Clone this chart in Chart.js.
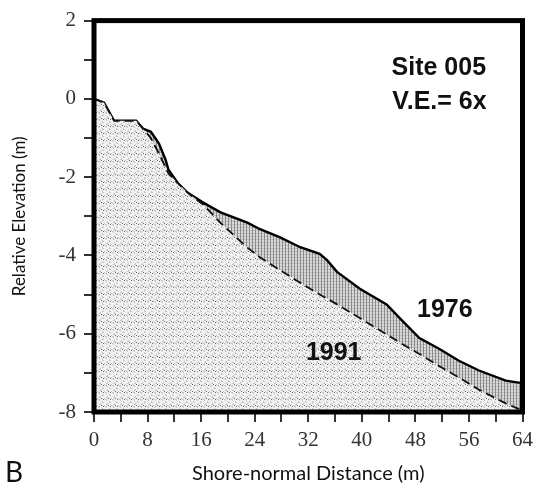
<!DOCTYPE html>
<html>
<head>
<meta charset="utf-8">
<script src="https://cdn.jsdelivr.net/npm/chart.js@4.4.1/dist/chart.umd.min.js"></script>
<style>
html,body{margin:0;padding:0;background:#fff;}
#wrap{width:539px;height:491px;position:relative;}
</style>
</head>
<body>
<div id="wrap"><canvas id="c" width="539" height="491"></canvas></div>
<script>
// ---- data ----
const distance = [0, 1.5, 3, 6.3, 7.3, 8.5, 9.7, 10.7, 11.1, 12.5, 14, 16.3, 18.9, 22.9, 24.8, 27.8, 30.8, 33.7, 34.8, 36.3, 39.7, 43.7, 46.1, 48.6, 51.6, 54.5, 57.5, 61.5, 63.4, 64];
const elev1976 = [0, -0.1, -0.56, -0.56, -0.76, -0.84, -1.14, -1.56, -1.8, -2.15, -2.4, -2.65, -2.9, -3.16, -3.33, -3.54, -3.79, -3.96, -4.12, -4.42, -4.85, -5.25, -5.68, -6.11, -6.39, -6.69, -6.94, -7.2, -7.25, -7.25];
const elev1991 = [0, -0.1, -0.56, -0.56, -0.76, -1.0, -1.4, -1.75, -1.9, -2.15, -2.4, -2.7, -3.17, -3.8, -4.05, -4.38, -4.7, -5.0, -5.1, -5.25, -5.6, -6.02, -6.27, -6.52, -6.83, -7.12, -7.43, -7.78, -7.92, -7.95];
const xTicks = [0, 8, 16, 24, 32, 40, 48, 56, 64];
const yTicks = [2, 0, -2, -4, -6, -8];
const seriesLabels = ['1991', '1976'];
const siteTitle = ['Site 005', 'V.E.= 6x'];
const panelLetter = 'B';
const xTitle = 'Shore-normal Distance (m)';
const yTitle = 'Relative Elevation (m)';

// ---- patterns ----
function dotPattern() {
  const c = document.createElement('canvas');
  c.width = 7; c.height = 7;
  const g = c.getContext('2d');
  g.fillStyle = '#f1f1f1'; g.fillRect(0, 0, 7, 7);
  g.fillStyle = '#c6c6c6';
  g.fillRect(0, 0, 2, 1); g.fillRect(1, 1, 1, 1);
  g.fillRect(4, 2, 1, 2); g.fillRect(5, 3, 1, 1);
  g.fillRect(1, 5, 2, 1); g.fillRect(2, 4, 1, 1);
  g.fillRect(6, 6, 1, 1);
  g.fillStyle = '#666';
  g.fillRect(5, 0, 1, 1); g.fillRect(3, 6, 1, 1);
  return g.createPattern(c, 'repeat');
}
function hatchPattern() {
  const c = document.createElement('canvas');
  c.width = 3; c.height = 3;
  const g = c.getContext('2d');
  g.fillStyle = '#dadada'; g.fillRect(0, 0, 3, 3);
  g.fillStyle = '#bdbdbd';
  g.fillRect(0, 2, 3, 1);
  g.fillStyle = '#8a8a8a';
  g.fillRect(0, 0, 1, 3);
  return g.createPattern(c, 'repeat');
}

const boxPlugin = {
  id: 'box',
  afterDatasetsDraw(chart) {
    const a = chart.chartArea, ctx = chart.ctx;
    ctx.save();
    ctx.strokeStyle = '#000';
    ctx.lineWidth = 5;
    ctx.strokeRect(a.left, a.top, a.right - a.left, a.bottom - a.top);
    ctx.restore();
  },
  afterDraw(chart) {
    const ctx = chart.ctx, xs = chart.scales.x, ys = chart.scales.y;
    ctx.save();
    ctx.fillStyle = '#111';
    ctx.textAlign = 'center';
    ctx.textBaseline = 'middle';
    ctx.font = 'bold 25px "Liberation Sans", Arial, sans-serif';
    ctx.fillText(siteTitle[0], xs.getPixelForValue(51.5), ys.getPixelForValue(0.79));
    ctx.fillText(siteTitle[1], xs.getPixelForValue(51.6), ys.getPixelForValue(-0.09));
    ctx.fillText(seriesLabels[1], xs.getPixelForValue(52.4), ys.getPixelForValue(-5.39));
    ctx.fillText(seriesLabels[0], xs.getPixelForValue(35.8), ys.getPixelForValue(-6.49));
    ctx.font = '28px Lato, "Open Sans", sans-serif';
    ctx.fillStyle = '#111';
    ctx.fillText(panelLetter, 14, 473);
    ctx.restore();
  }
};

const tickFont = { family: '"Liberation Serif", "Times New Roman", serif', size: 21 };

new Chart(document.getElementById('c'), {
  type: 'line',
  data: {
    labels: distance,
    datasets: [
      {
        label: seriesLabels[0],
        data: distance.map((d, i) => ({ x: d, y: elev1991[i] })),
        borderColor: '#111',
        borderWidth: 1.8,
        borderDash: [9, 5],
        pointRadius: 0,
        tension: 0,
        fill: 'start',
        backgroundColor: dotPattern()
      },
      {
        label: seriesLabels[1],
        data: distance.map((d, i) => ({ x: d, y: elev1976[i] })),
        borderColor: '#000',
        borderWidth: 2.4,
        pointRadius: 0,
        tension: 0,
        fill: 0,
        backgroundColor: hatchPattern()
      }
    ]
  },
  options: {
    responsive: false,
    animation: false,
    devicePixelRatio: 1,
    layout: { padding: { top: 14, right: 16, left: 0, bottom: 0 } },
    plugins: { legend: { display: false }, tooltip: { enabled: false }, title: { display: false } },
    scales: {
      x: {
        type: 'linear',
        min: 0, max: 64,
        afterFit(s) { s.height = 79; },
        afterBuildTicks(s) { s.ticks = []; for (let v = 0; v <= 64; v += 4) s.ticks.push({ value: v }); },
        ticks: {
          autoSkip: false, maxRotation: 0,
          color: '#333', font: tickFont, padding: 6,
          callback: v => (xTicks.includes(v) ? String(v) : '')
        },
        grid: { drawOnChartArea: false, drawTicks: true, tickLength: 10, color: '#333', lineWidth: 2 },
        border: { display: false },
        title: { display: true, text: xTitle, color: '#111', font: { family: 'Lato, "Open Sans", sans-serif', size: 20 }, padding: { top: 0, bottom: 5 } }
      },
      y: {
        type: 'linear',
        min: -8, max: 2,
        afterFit(s) { s.width = 94; },
        afterBuildTicks(s) { s.ticks = []; for (let v = -8; v <= 2; v += 1) s.ticks.push({ value: v }); },
        ticks: {
          autoSkip: false,
          color: '#333', font: tickFont, padding: 8,
          callback: v => (yTicks.includes(v) ? String(v) : '')
        },
        grid: { drawOnChartArea: false, drawTicks: true, tickLength: 10, color: '#333', lineWidth: 2 },
        border: { display: false },
        title: { display: true, text: yTitle, color: '#111', font: { family: 'Lato, "Open Sans", sans-serif', size: 17 }, padding: { top: 9, bottom: 0 } }
      }
    }
  },
  plugins: [boxPlugin]
});
</script>
</body>
</html>
